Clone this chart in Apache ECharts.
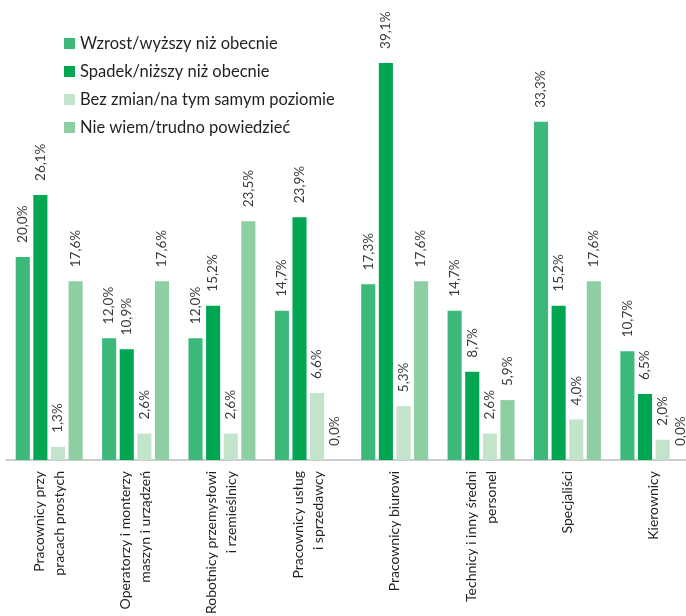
<!DOCTYPE html>
<html>
<head>
<meta charset="utf-8">
<script src="https://cdn.jsdelivr.net/npm/echarts@6/dist/echarts.min.js"></script>
<style>
html,body{margin:0;padding:0;background:#fff;}
#chart{width:686px;height:616px;}
</style>
</head>
<body>
<div id="chart"></div>
<script>
const categories = [
  "Pracownicy przy\npracach prostych",
  "Operatorzy i monterzy\nmaszyn i urządzeń",
  "Robotnicy przemysłowi\ni rzemieślnicy",
  "Pracownicy usług\ni sprzedawcy",
  "Pracownicy biurowi",
  "Technicy i inny średni\npersonel",
  "Specjaliści",
  "Kierownicy"
];
const seriesNames = [
  "Wzrost/wyższy niż obecnie",
  "Spadek/niższy niż obecnie",
  "Bez zmian/na tym samym poziomie",
  "Nie wiem/trudno powiedzieć"
];
const wzrost   = [20.0, 12.0, 12.0, 14.7, 17.3, 14.7, 33.3, 10.7];
const spadek   = [26.1, 10.9, 15.2, 23.9, 39.1, 8.7, 15.2, 6.5];
const bezZmian = [1.3, 2.6, 2.6, 6.6, 5.3, 2.6, 4.0, 2.0];
const nieWiem  = [17.6, 17.6, 23.5, 0.0, 17.6, 5.9, 17.6, 0.0];

const colors = ["#3bb87a", "#00a651", "#c2e4ca", "#8dcea3"];
const font = "Lato, 'Noto Sans', sans-serif";

function mk(name, data, color) {
  return {
    name: name,
    type: 'bar',
    data: data,
    itemStyle: { color: color },
    barGap: '25%',
    barCategoryGap: '22.5%',
    label: {
      show: true,
      position: 'top',
      rotate: 90,
      align: 'left',
      verticalAlign: 'middle',
      distance: 14,
      fontFamily: font,
      fontSize: 13.5,
      color: '#3a3a3a',
      formatter: p => p.value.toFixed(1).replace('.', ',') + '%'
    }
  };
}

const chart = echarts.init(document.getElementById('chart'), null, { renderer: 'canvas' });
chart.setOption({
  animation: false,
  color: colors,
  legend: {
    orient: 'vertical',
    left: 59,
    top: 30,
    itemWidth: 11,
    itemHeight: 11,
    itemGap: 11,
    icon: 'rect',
    textStyle: { fontFamily: font, fontSize: 16.5, color: '#231f20', lineHeight: 17 },
    data: seriesNames
  },
  grid: { left: 6, right: -11, top: 3, bottom: 156, containLabel: false, outerBoundsMode: 'none' },
  xAxis: {
    type: 'category',
    data: categories,
    axisLine: { lineStyle: { color: '#bdbdbd', width: 1.5 } },
    axisTick: { show: false },
    axisLabel: {
      rotate: 90,
      interval: 0,
      margin: 11,
      fontFamily: font,
      fontSize: 14,
      color: '#231f20',
      lineHeight: 20
    }
  },
  yAxis: {
    type: 'value',
    min: 0,
    max: 45,
    show: false,
    splitLine: { show: false }
  },
  series: [
    mk(seriesNames[0], wzrost, colors[0]),
    mk(seriesNames[1], spadek, colors[1]),
    mk(seriesNames[2], bezZmian, colors[2]),
    mk(seriesNames[3], nieWiem, colors[3])
  ]
});
</script>
</body>
</html>
